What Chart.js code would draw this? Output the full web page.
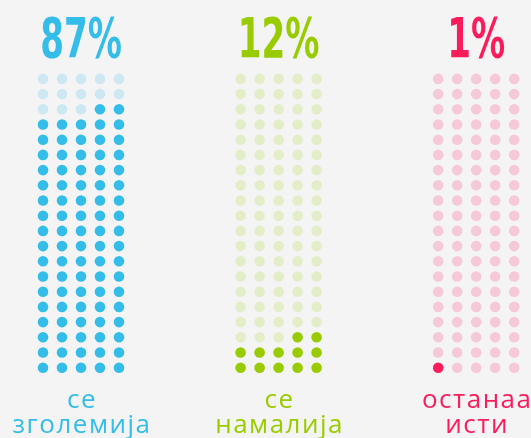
<!DOCTYPE html>
<html>
<head>
<meta charset="utf-8">
<script src="https://cdn.jsdelivr.net/npm/chart.js@4/dist/chart.umd.min.js"></script>
<style>
html,body{margin:0;padding:0;background:#f4f4f4;}
#c{display:block;}
</style>
</head>
<body>
<canvas id="c" width="531" height="438"></canvas>
<script>
// ---- data ----
const categories = [["се", "зголемија"], ["се", "намалија"], ["останаа", "исти"]];
const percentValues = [87, 12, 1];
const percentLabels = ["87%", "12%", "1%"];
const fullColors = ["#35bde9", "#99cc00", "#fb1c5b"];
const lightColors = ["#cde8f3", "#e3eec8", "#f6c9d7"];

const COLS = 5, ROWS = 20, GROUP_STEP = 10.4;

function buildDataset(g) {
  const v = percentValues[g];
  const fullRows = Math.floor(v / COLS);
  const rem = v % COLS;
  const pts = [], colors = [];
  for (let r = 0; r < ROWS; r++) {
    for (let c = 0; c < COLS; c++) {
      let filled = r < fullRows;
      if (r === fullRows && rem > 0) {
        filled = fullRows > 0 ? (c >= COLS - rem) : (c < rem);
      }
      pts.push({x: g * GROUP_STEP + c, y: r});
      colors.push(filled ? fullColors[g] : lightColors[g]);
    }
  }
  return {
    data: pts,
    backgroundColor: colors,
    pointBackgroundColor: colors,
    pointBorderWidth: 0,
    borderWidth: 0,
    pointRadius: 5.3,
    pointHoverRadius: 5.3
  };
}

const textPlugin = {
  id: 'waffleText',
  afterDraw(chart) {
    const ctx = chart.ctx;
    const xs = chart.scales.x;
    ctx.save();
    categories.forEach((lines, g) => {
      const cx = xs.getPixelForValue(g * GROUP_STEP + (COLS - 1) / 2);
      // percent
      ctx.save();
      ctx.fillStyle = fullColors[g];
      ctx.textAlign = 'center';
      ctx.textBaseline = 'alphabetic';
      ctx.font = "bold 55px 'DejaVu Sans Condensed', 'Liberation Sans Narrow', sans-serif";
      ctx.translate(cx, 57);
      ctx.scale(0.69, 1);
      ctx.fillText(percentLabels[g], 0, 0);
      ctx.restore();
      // labels
      ctx.save();
      ctx.fillStyle = fullColors[g];
      ctx.textAlign = 'center';
      ctx.font = "400 26px 'Open Sans', sans-serif";
      try { ctx.letterSpacing = '1.5px'; } catch (e) {}
      lines.forEach((ln, i) => ctx.fillText(ln, cx + 1, 408 + i * 25));
      ctx.restore();
    });
    ctx.restore();
  }
};

new Chart(document.getElementById('c'), {
  type: 'scatter',
  data: { datasets: categories.map((_, g) => buildDataset(g)) },
  options: {
    responsive: false,
    devicePixelRatio: 1,
    animation: false,
    layout: { padding: 0, autoPadding: false },
    plugins: { legend: { display: false }, tooltip: { enabled: false } },
    scales: {
      x: { type: 'linear', display: false, min: -2.263, max: 25.684 },
      y: { type: 'linear', display: false, min: -4.625, max: 24.19 }
    }
  },
  plugins: [textPlugin]
});
</script>
</body>
</html>
